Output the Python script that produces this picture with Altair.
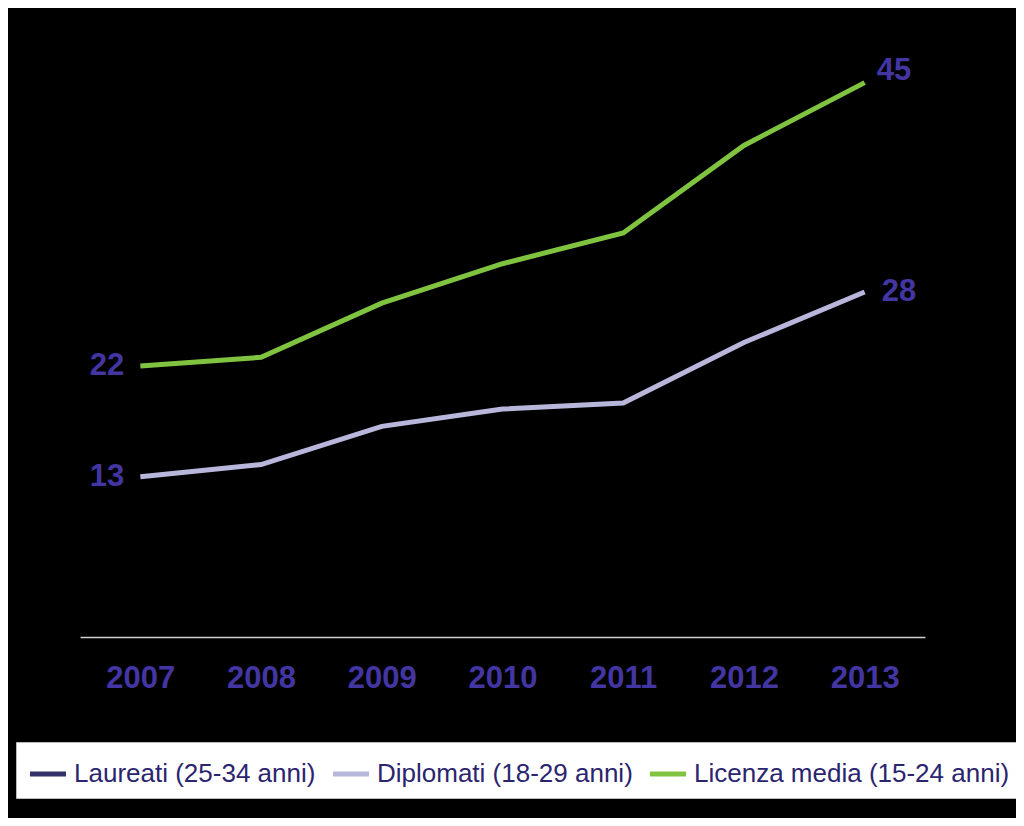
import altair as alt
import pandas as pd

years = ["2007", "2008", "2009", "2010", "2011", "2012", "2013"]
series_names = ["Laureati (25-34 anni)", "Diplomati (18-29 anni)", "Licenza media (15-24 anni)"]
series_colors = ["#35326B", "#B9B6DC", "#80C341"]
diplomati = [13, 14, 17.1, 18.5, 19.0, 23.9, 28]
licenza = [22, 22.7, 27.1, 30.3, 32.8, 39.9, 45]

rows = []
for y, v in zip(years, diplomati):
    rows.append({"year": y, "value": v, "series": series_names[1]})
for y, v in zip(years, licenza):
    rows.append({"year": y, "value": v, "series": series_names[2]})
df = pd.DataFrame(rows)

NUM_FONT = "Liberation Sans"
NUM_SIZE = 31
TXT = "#4336A3"

x_enc = alt.X("year:O", scale=alt.Scale(domain=years, paddingOuter=0.5),
              axis=alt.Axis(title=None, labelAngle=0, ticks=False, domainColor="#D0D0D0",
                            domainWidth=1.5, labelFont=NUM_FONT, labelFontSize=NUM_SIZE,
                            labelFontWeight="bold", labelColor=TXT, labelPadding=26,
                            grid=False))
y_enc = alt.Y("value:Q", scale=alt.Scale(domain=[0, 50]), axis=None)

lines = alt.Chart(df).mark_line(strokeWidth=5).encode(
    x=x_enc, y=y_enc,
    color=alt.Color("series:N",
                    scale=alt.Scale(domain=series_names, range=series_colors),
                    legend=alt.Legend(title=None, orient="none", legendX=-64, legendY=721,
                                      direction="horizontal", fillColor="white",
                                      strokeColor="#BBBBBB", padding=11,
                                      symbolType="stroke", symbolStrokeWidth=5,
                                      symbolSize=1300, labelFont="Liberation Sans",
                                      labelFontSize=26, labelColor="#2B2570",
                                      labelOffset=5, columnPadding=6, labelLimit=500)),
)

base = alt.Chart(df)
left_labels = base.transform_filter(alt.datum.year == "2007").mark_text(
    align="right", baseline="middle", dx=-16, font=NUM_FONT, fontSize=NUM_SIZE,
    fontWeight="bold", color=TXT
).encode(x="year:O", y="value:Q", text=alt.Text("value:Q", format=".0f"))

right_top = base.transform_filter(
    (alt.datum.year == "2013") & (alt.datum.series == series_names[2])
).mark_text(align="left", baseline="middle", dx=12, dy=-12, font=NUM_FONT, fontSize=NUM_SIZE,
            fontWeight="bold", color=TXT
).encode(x="year:O", y="value:Q", text=alt.Text("value:Q", format=".0f"))

right_mid = base.transform_filter(
    (alt.datum.year == "2013") & (alt.datum.series == series_names[1])
).mark_text(align="left", baseline="middle", dx=17, font=NUM_FONT, fontSize=NUM_SIZE,
            fontWeight="bold", color=TXT
).encode(x="year:O", y="value:Q", text=alt.Text("value:Q", format=".0f"))

chart = alt.layer(lines, left_labels, right_top, right_mid).properties(
    width=845, height=616,
    background="black",
    padding={"left": 72, "top": 13, "right": 91, "bottom": 181},
    autosize=alt.AutoSizeParams(type="none"),
).configure_view(stroke=None)

chart.save("out.html", embed_options={"renderer": "svg", "actions": False})
